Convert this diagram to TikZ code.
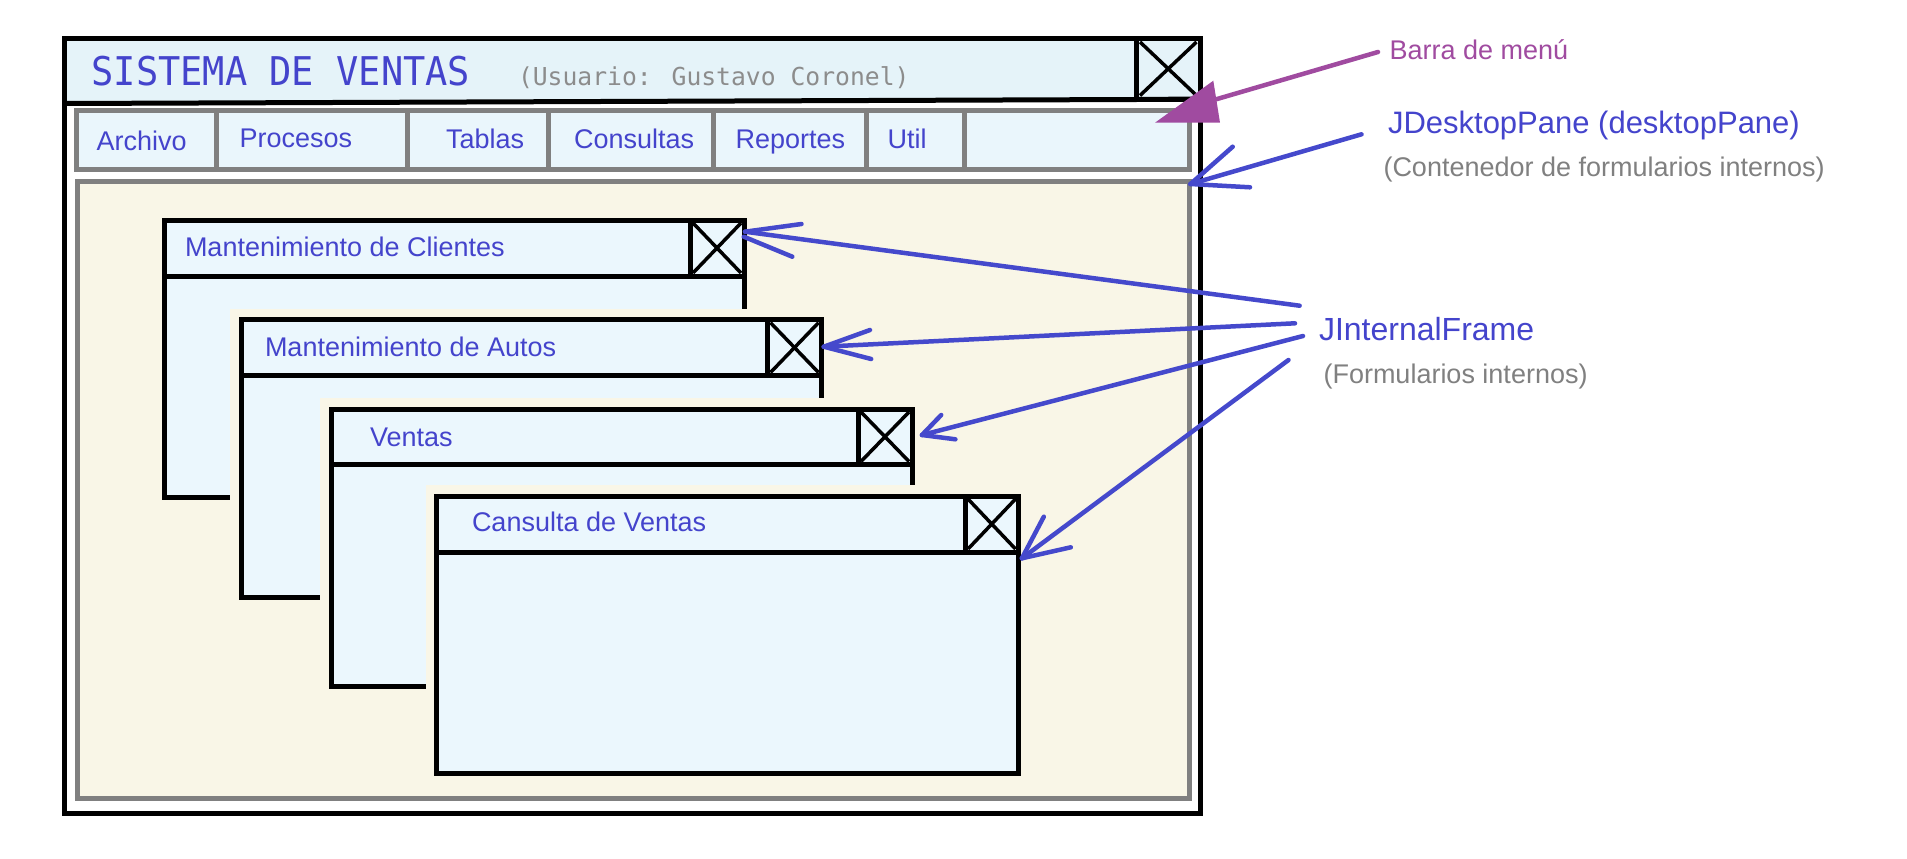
\documentclass[tikz,border=0pt]{standalone}
\usepackage{fontspec}
\setmainfont{Liberation Sans}
\newfontfamily\titlemono{DejaVu Sans Mono}
\definecolor{txtblue}{HTML}{4444CC}
\definecolor{arrblue}{HTML}{4549CC}
\definecolor{purp}{HTML}{A04BA0}
\definecolor{txtgray}{HTML}{808080}
\definecolor{usergray}{HTML}{8C8C8C}
\definecolor{linegray}{HTML}{808080}
\definecolor{titlefill}{HTML}{E5F3F9}
\definecolor{menufill}{HTML}{EAF6FC}
\definecolor{framefill}{HTML}{EBF7FD}
\definecolor{cream}{HTML}{F9F6E7}
\definecolor{halo}{HTML}{F9F6E7}
\tikzset{
  winline/.style={draw=black, line width=5pt},
  grayline/.style={draw=linegray, line width=5pt},
  xline/.style={draw=black, line width=3.5pt},
  lbl/.style={anchor=base west, inner sep=0pt, outer sep=0pt},
  menutext/.style={lbl, text=txtblue, font=\fontsize{27}{30}\selectfont},
  pointer/.style={draw=arrblue, line width=4.5pt, line cap=round},
  mpointer/.style={draw=purp, line width=4.5pt, line cap=round},
}
\begin{document}
\begin{tikzpicture}[x=1pt,y=-1pt]
\useasboundingbox (0,0) rectangle (1907,859);
\fill[white] (0,0) rectangle (1907,859);

% desktop pane
\draw[grayline, fill=cream] (77.5,181.5) rectangle (1189,798.5);
% menu bar
\draw[grayline, fill=menufill] (76.5,110) rectangle (1189,169);
\foreach \x in {216,407,548,713,866,964}
  \draw[grayline] (\x,110) -- (\x,169);
% title bar
\fill[titlefill] (64.5,38.5) -- (1200,38.5) -- (1200,99) -- (64.5,103.5) -- cycle;

% internal frames
\foreach \n/\L/\T/\R/\B/\H/\C/\tx/\ty/\txt in {
  1/164.5/220/744/497.5/276/690/185/256.8/Mantenimiento de Clientes,
  2/241/319.7/821.5/597.2/375.5/767.5/265/356.3/Mantenimiento de Autos,
  3/331/409/912/686.5/464.5/858/370/446.8/Ventas,
  4/436.5/496/1018.5/773.5/552/965/472/531.9/Cansulta de Ventas}{
  \fill[halo] (\L-11,\T-11) rectangle (\R+11,\B+11);
  \draw[winline, fill=framefill] (\L,\T) rectangle (\R,\B);
  \draw[winline] (\L,\H) -- (\R,\H);
  \draw[winline] (\C,\T) rectangle (\R,\H);
  \draw[xline] (\C+3,\T+3) -- (\R-3,\H-3);
  \draw[xline] (\C+3,\H-3) -- (\R-3,\T+3);
  \node[menutext] (ft\n) at (\tx,\ty) {\txt};
}

% main window
\draw[winline] (64.5,38.5) rectangle (1200,813.5);
\draw[winline] (64.5,103.5) -- (1136.5,99.5) -- (1200,99);
\draw[winline] (1136.5,38.5) rectangle (1200,99);
\draw[line width=3.5pt] (1140,42) -- (1196.5,95.5);
\draw[line width=3.5pt] (1140,95.5) -- (1196.5,42);

% title texts
\node[lbl, text=txtblue, font=\titlemono\fontsize{37}{40}\selectfont] (title) at (91.5,85) {\scalebox{1}[1.07]{SISTEMA DE VENTAS}};
\node[lbl, text=usergray, font=\titlemono\fontsize{24.7}{28}\selectfont] (user) at (518,85) {(Usuario: Gustavo Coronel)};

% menu texts
\node[menutext] (m1) at (96.5,150.7) {Archivo};
\node[menutext] (m2) at (239.5,147) {Procesos};
\node[menutext] (m3) at (446,148.3) {Tablas};
\node[menutext] (m4) at (574,148.3) {Consultas};
\node[menutext] (m5) at (735.5,148) {Reportes};
\node[menutext] (m6) at (887.5,148) {Util};

% right labels
\node[lbl, text=purp, font=\fontsize{27}{30}\selectfont] (lmenu) at (1389.5,59.3) {Barra de menú};
\node[lbl, text=txtblue, font=\fontsize{31}{34}\selectfont] (ldesk) at (1388,133.3) {JDesktopPane (desktopPane)};
\node[lbl, text=txtgray, font=\fontsize{27}{30}\selectfont] (ldesk2) at (1383.5,176.7) {(Contenedor de formularios internos)};
\node[lbl, text=txtblue, font=\fontsize{32}{35}\selectfont] (lint) at (1319,340) {JInternalFrame};
\node[lbl, text=txtgray, font=\fontsize{27}{30}\selectfont] (lint2) at (1323.5,383.3) {(Formularios internos)};

% purple arrow (menu bar)
\coordinate (ps) at (1378,52);
\coordinate (pe) at (1200,104);
\coordinate (ph1) at (1155,122.7);
\coordinate (ph2) at (1213.3,80.7);
\coordinate (ph3) at (1220,122.7);
\draw[mpointer] (ps) -- (pe);
\fill[purp] (ph1) -- (ph2) -- (ph3) -- cycle;

% desktop pane arrow
\coordinate (ds) at (1361.5,134.3);
\coordinate (dt) at (1190.5,184);
\coordinate (db1) at (1232.7,146.7);
\coordinate (db2) at (1250,187.3);
\draw[pointer] (ds) -- (dt);
\draw[pointer] (dt) -- (db1);
\draw[pointer] (dt) -- (db2);

% internal frame arrows
\coordinate (s1) at (1299.6,305.7);
\coordinate (t1) at (745,231.7);
\coordinate (t1b) at (743.8,236.7);
\coordinate (b1a) at (801.5,224);
\coordinate (b1b) at (792.3,256.7);
\draw[pointer] (s1) -- (t1);
\draw[pointer] (t1) -- (b1a);
\draw[pointer] (t1b) -- (b1b);

\coordinate (s2) at (1295,323.3);
\coordinate (t2) at (823.8,346.7);
\coordinate (b2a) at (870,330);
\coordinate (b2b) at (871.2,359);
\draw[pointer] (s2) -- (t2);
\draw[pointer] (t2) -- (b2a);
\draw[pointer] (t2) -- (b2b);

\coordinate (s3) at (1303,336);
\coordinate (t3) at (922,435);
\coordinate (b3a) at (941.2,415);
\coordinate (b3b) at (955.4,439.3);
\draw[pointer] (s3) -- (t3);
\draw[pointer] (t3) -- (b3a);
\draw[pointer] (t3) -- (b3b);

\coordinate (s4) at (1288.5,360);
\coordinate (t4) at (1021.9,558.3);
\coordinate (b4a) at (1043.8,516.7);
\coordinate (b4b) at (1070.8,547.3);
\draw[pointer] (s4) -- (t4);
\draw[pointer] (t4) -- (b4a);
\draw[pointer] (t4) -- (b4b);
\end{tikzpicture}
\end{document}
